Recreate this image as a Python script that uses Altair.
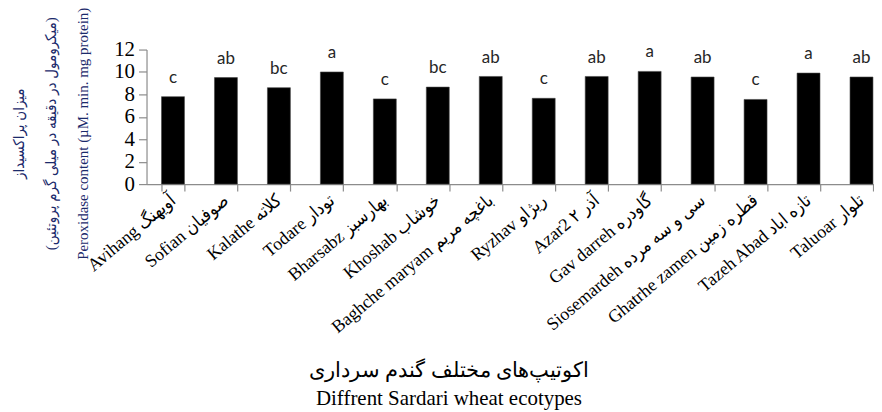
import altair as alt
import pandas as pd

english = ["Avihang", "Sofian", "Kalathe", "Todare", "Bharsabz", "Khoshab",
           "Baghche maryam", "Ryzhav", "Azar2", "Gav darreh", "Siosemardeh",
           "Ghatrhe zamen", "Tazeh Abad", "Taluoar"]
persian = ["آویهنگ", "صوفیان", "کلاته", "تودار", "بهارسبز", "خوشاب",
           "باغچه مریم", "ریژاو", "آذر ۲", "گاودره", "سی و سه مرده",
           "قطره زمین", "تازه اباد", "تلوار"]
values = [7.8, 9.5, 8.6, 10.0, 7.6, 8.65, 9.6, 7.65, 9.6, 10.05, 9.55, 7.55, 9.9, 9.55]
letters = ["c", "ab", "bc", "a", "c", "bc", "ab", "c", "ab", "a", "ab", "c", "a", "ab"]
y_ticks = [0, 2, 4, 6, 8, 10, 12]

labels = [f"{e} {p}" for e, p in zip(english, persian)]
df = pd.DataFrame({"label": labels, "value": values, "letter": letters})

y_title = ["میزان پراکسیداز",
           "(میکرومول در دقیقه در میلی گرم پروتئین)",
           "Peroxidase content (µM. min. mg protein)"]
x_title = ["اکوتیپ‌های مختلف گندم سرداری", "Diffrent Sardari wheat ecotypes"]

serif = "Liberation Serif"
mixed = "Liberation Serif, DejaVu Sans Condensed"
gray = "#8c8c8c"

x_scale = alt.Scale(range=[0, 744], paddingInner=0.567, paddingOuter=0.283)
y_scale = alt.Scale(domain=[0, 12], nice=False)

bars = alt.Chart(df).mark_bar(color="black", stroke="#444444", strokeWidth=0.6).encode(
    x=alt.X("label:N", sort=labels, scale=x_scale, title=x_title),
    y=alt.Y("value:Q", scale=y_scale, title=y_title, axis=alt.Axis(values=y_ticks)),
)
text = alt.Chart(df).mark_text(
    font="Lato", fontSize=17, color="#262626", baseline="alphabetic", dy=-14
).encode(
    x=alt.X("label:N", sort=labels, scale=x_scale, title=x_title),
    y=alt.Y("value:Q", scale=y_scale, title=y_title, axis=alt.Axis(values=y_ticks)),
    text="letter:N",
)

chart = (
    alt.layer(bars, text)
    .properties(
        width=730, height=135,
        autosize=alt.AutoSizeParams(type="none"),
        padding={"left": 139, "top": 41, "right": 0, "bottom": 228},
        background="white",
    )
    .configure_view(strokeWidth=0)
    .configure_axisX(
        titleFont=serif, titleFontSize=21, titleFontWeight="normal",
        titleColor="black", titleX=303, titleY=193, titleAlign="center",
        titleBaseline="alphabetic", titleLineHeight=28,
        labelAngle=320, labelAlign="right", labelBaseline="middle",
        labelFont=mixed, labelFontSize=18, labelColor="black", labelPadding=7,
        labelLimit=400, labelOverlap=False,
        tickBand="extent", tickSize=7, tickColor=gray, domainColor=gray,
        domainWidth=1.2, tickWidth=1.2, grid=False,
    )
    .configure_axisY(
        titleFont=mixed, titleFontSize=15, titleFontWeight="normal",
        titleColor="#1b2a6b", titleAngle=270, titleAlign="center",
        titleBaseline="top", titleX=-135, titleY=84, titleLineHeight=32,
        labelFont=serif, labelFontSize=21, labelColor="black", labelPadding=4,
        labelOverlap=False,
        tickSize=8, tickColor=gray, domainColor=gray, domainWidth=1.2,
        tickWidth=1.2, grid=False,
    )
)

chart.save("out.html", embed_options={"renderer": "svg", "actions": False})
